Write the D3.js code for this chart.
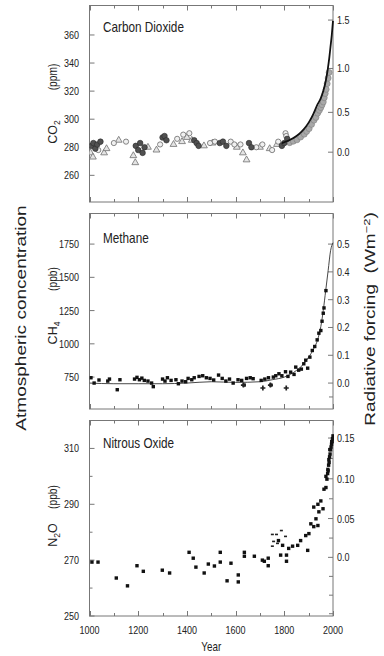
<!DOCTYPE html>
<html><head><meta charset="utf-8">
<script src="https://cdn.jsdelivr.net/npm/d3@7"></script>
<style>
html,body{margin:0;padding:0;background:#fff;}
svg{display:block;background:#fff;}
text{font-family:"Liberation Sans",Arial,"Helvetica",sans-serif;fill:#222;}
</style></head><body>
<svg id="c" width="384" height="656"></svg>
<script>
// ---------------- DATA ----------------
const xDomain = [1000, 2000];
const yearTickLabels = [1000, 1200, 1400, 1600, 1800, 2000];

// CO2 (ppm)
const co2Ticks = [260, 280, 300, 320, 340, 360];
const co2ForcingTicks = [0.0, 0.5, 1.0, 1.5];
const co2Dark = [[1008,281],[1016,283],[1024,279],[1032,282],[1045,284],[1190,281],[1200,278],[1208,283],[1218,276],[1226,280],[1300,287],[1308,288],[1316,285],[1430,285],[1440,283],[1448,281],[1535,283],[1548,284],[1562,281],[1655,283],[1665,280],[1790,281],[1800,283],[1812,286]];
const co2Triangles = [[1004,276],[1014,273],[1060,276],[1070,279],[1120,285],[1180,274],[1188,269],[1240,280],[1275,278],[1345,282],[1380,284],[1400,287],[1420,285],[1470,281],[1505,283],[1605,280],[1630,276],[1645,271],[1700,280],[1740,279],[1770,282]];
const co2Circles = [[1036,278],[1100,283],[1150,284],[1290,282],[1360,286],[1385,289],[1410,290],[1495,283],[1515,284],[1580,284],[1595,282],[1620,282],[1685,280],[1710,282],[1750,278],[1775,284],[1805,290],[1808,288]];
const co2Recent = [[1820,284],[1835,285],[1850,286],[1865,288],[1880,290],[1890,292],[1900,294],[1910,297],[1920,300],[1928,302],[1935,305],[1942,307],[1948,309],[1953,311],[1958,313],[1962,316],[1966,319],[1970,322],[1974,326],[1978,330],[1982,334]];
const co2Line = [[1790,283],[1820,285],[1850,288],[1870,291],[1890,295],[1905,299],[1920,304],[1935,310],[1950,315],[1960,320],[1970,327],[1978,335],[1985,344],[1990,352],[1995,360],[2000,370]];

// CH4 (ppb)
const ch4Ticks = [750, 1000, 1250, 1500, 1750];
const ch4ForcingTicks = [0.0, 0.1, 0.2, 0.3, 0.4, 0.5];
const ch4Points = [[1006,745],[1019,705],[1039,728],[1075,720],[1082,735],[1114,655],[1125,730],[1185,735],[1195,748],[1205,730],[1215,742],[1225,725],[1240,720],[1255,705],[1262,678],[1300,735],[1310,720],[1320,745],[1335,725],[1355,730],[1365,700],[1380,720],[1395,715],[1405,740],[1420,730],[1430,745],[1450,755],[1465,760],[1480,745],[1495,740],[1510,728],[1530,765],[1545,740],[1560,720],[1575,735],[1590,705],[1610,730],[1625,725],[1635,690],[1645,740],[1660,745],[1672,738],[1705,725],[1720,735],[1735,745],[1745,690],[1755,750],[1765,760],[1778,775],[1790,760],[1805,790],[1815,755],[1826,787],[1840,770],[1847,825],[1859,802],[1870,810],[1880,850],[1888,877],[1896,817],[1905,900],[1915,950],[1925,980],[1935,1030],[1942,1080],[1950,1100],[1955,1170],[1960,1230],[1963,1270],[1971,1400]];
const ch4Crosses = [[1712,668],[1808,668],[1632,690],[1743,690]];
const ch4Line = [[1000,705],[1100,700],[1200,700],[1300,700],[1400,705],[1500,715],[1600,710],[1700,715],[1750,730],[1800,750],[1850,800],[1880,850],[1900,900],[1920,960],[1940,1050],[1950,1130],[1960,1250],[1970,1400],[1980,1550],[1990,1700],[2000,1760]];

// N2O (ppb)
const n2oTicks = [250, 270, 290, 310];
const n2oMinorTicks = [260, 280, 300];
const n2oForcingTicks = [0.0, 0.05, 0.10, 0.15];
const n2oForcingLabels = ["0.0", "0.05", "0.10", "0.15"];
const n2oForcingMinor = [-0.075, -0.05, -0.025, 0.025, 0.075, 0.125];
const n2oPoints = [[1010,269.3],[1035,269.3],[1110,263.6],[1156,260.8],[1195,268],[1221,266],[1299,266.4],[1329,265.4],[1409,272.8],[1426,270.7],[1437,267.5],[1471,265.4],[1488,268.6],[1513,267.9],[1537,272.8],[1537,269.3],[1565,262.6],[1581,268.9],[1611,264.7],[1611,262.2],[1636,272.8],[1636,271.4],[1677,271.4],[1710,270],[1718,269.6],[1734,270.7],[1734,268],[1776,277],[1785,271.8],[1793,275.3],[1809,271.8],[1809,269.6],[1818,274.2],[1834,275],[1855,275.3],[1867,277],[1888,278.8],[1896,273.5],[1901,279.5],[1909,283],[1921,282],[1930,284.8],[1938,282.4],[1921,289],[1938,290],[1942,287.3],[1950,291.2],[1959,288.4],[1963,295.4],[1971,296],[1971,300],[1975,299],[1978,301],[1979,302.5],[1980,302],[1982,304],[1983,306],[1984,305],[1986,307],[1987,309.6],[1988,308],[1990,309.5],[1992,310.5],[1994,311.5],[1995,312.4],[1996,312.5],[1998,313.5],[2000,314.5]];
const n2oDashes = [[1751,279.2],[1768,279.2],[1751,275],[1756,276.7],[1772,276],[1788,280.6],[1805,278.5]];

// ---------------- CHART ----------------
const svg = d3.select('#c');
const xLeft = 89.5, xRight = 333;
const x = d3.scaleLinear().domain(xDomain).range([xLeft, xRight]);
const frameColor = '#777';
const SQ = 0.82; // horizontal squeeze of text

function htext(sel, tx, ty, size, anchor, txt, sq) {
  return sel.append('text')
    .attr('transform', `translate(${tx},${ty}) scale(${sq || SQ},1)`)
    .attr('text-anchor', anchor).attr('font-size', size).text(txt);
}

const co2FromForcing = f => 276.5 * Math.exp(f / 5.12);
const ch4FromForcing = f => 705 + f * 2090;
const n2oFromForcing = f => Math.pow(Math.sqrt(271) + f / 0.12, 2);

const panels = [
  {top: 5.5, bottom: 202, domain: [241, 381], ticks: co2Ticks, minor: [],
   fTicks: co2ForcingTicks, fLabels: co2ForcingTicks.map(d3.format('.1f')), fMinor: [], toConc: co2FromForcing,
   title: 'Carbon Dioxide', titleY: 32, formula: ['CO', '2', ''], formulaY: 132, unit: '(ppm)', unitY: 77},
  {top: 213.5, bottom: 409, domain: [510, 1980], ticks: ch4Ticks, minor: [],
   fTicks: ch4ForcingTicks, fLabels: ch4ForcingTicks.map(d3.format('.1f')), fMinor: [-0.05], toConc: ch4FromForcing,
   title: 'Methane', titleY: 243, formula: ['CH', '4', ''], formulaY: 333, unit: '(ppb)', unitY: 279},
  {top: 420.5, bottom: 616, domain: [250, 320], ticks: n2oTicks, minor: n2oMinorTicks,
   fTicks: n2oForcingTicks, fLabels: n2oForcingLabels, fMinor: n2oForcingMinor, toConc: n2oFromForcing,
   title: 'Nitrous Oxide', titleY: 448, formula: ['N', '2', 'O'], formulaY: 535, unit: '(ppb)', unitY: 497}
];

panels.forEach((p, i) => {
  const y = d3.scaleLinear().domain(p.domain).range([p.bottom, p.top]);
  p.y = y;
  const g = svg.append('g');
  g.append('rect').attr('x', xLeft).attr('y', p.top).attr('width', xRight - xLeft).attr('height', p.bottom - p.top)
    .attr('fill', 'none').attr('stroke', frameColor).attr('stroke-width', 1);
  d3.range(1000, 2001, 100).forEach(yr => {
    const len = yr % 200 === 0 ? 5 : 3;
    const xx = Math.round(x(yr)) + 0.5;
    g.append('line').attr('x1', xx).attr('x2', xx).attr('y1', p.bottom).attr('y2', p.bottom - len).attr('stroke', frameColor);
    g.append('line').attr('x1', xx).attr('x2', xx).attr('y1', p.top).attr('y2', p.top + len).attr('stroke', frameColor);
  });
  p.ticks.forEach(v => {
    const yy = y(v);
    g.append('line').attr('x1', xLeft).attr('x2', xLeft + 5).attr('y1', yy).attr('y2', yy).attr('stroke', frameColor);
    htext(g, 79, yy + 4, 11, 'end', v);
  });
  p.minor.forEach(v => {
    const yy = y(v);
    g.append('line').attr('x1', xLeft).attr('x2', xLeft + 3).attr('y1', yy).attr('y2', yy).attr('stroke', frameColor);
  });
  p.fTicks.forEach((f, k) => {
    const yy = y(p.toConc(f));
    g.append('line').attr('x1', xRight).attr('x2', xRight - 5).attr('y1', yy).attr('y2', yy).attr('stroke', frameColor);
    htext(g, 337, yy + 4, 11, 'start', p.fLabels[k]);
  });
  p.fMinor.forEach(f => {
    const yy = y(p.toConc(f));
    g.append('line').attr('x1', xRight).attr('x2', xRight - 4).attr('y1', yy).attr('y2', yy).attr('stroke', frameColor);
  });
  htext(g, 103, p.titleY, 14, 'start', p.title, 0.84);
  const ft = g.append('text').attr('transform', `translate(57,${p.formulaY}) rotate(-90)`)
    .attr('text-anchor', 'middle').attr('font-size', 12.5);
  ft.append('tspan').text(p.formula[0]);
  ft.append('tspan').attr('dy', 3).attr('font-size', 8.5).text(p.formula[1]);
  if (p.formula[2]) ft.append('tspan').attr('dy', -3).text(p.formula[2]);
  g.append('text').attr('transform', `translate(57,${p.unitY}) rotate(-90) scale(0.82,1)`)
    .attr('text-anchor', 'middle').attr('font-size', 12.5).text(p.unit);
});

const P1 = panels[0], P2 = panels[1], P3 = panels[2];
const defs = svg.append('defs');
panels.forEach((p, i) => {
  defs.append('clipPath').attr('id', 'clip' + i).append('rect')
    .attr('x', xLeft).attr('y', p.top).attr('width', xRight - xLeft + 1).attr('height', p.bottom - p.top);
});

// ---- CO2 ----
const g1 = svg.append('g').attr('clip-path', 'url(#clip0)');
g1.selectAll('.rc').data(co2Recent).enter().append('circle')
  .attr('cx', d => x(d[0]) + 0.5).attr('cy', d => P1.y(d[1]) + 1).attr('r', 3)
  .attr('fill', '#a8a8a8').attr('stroke', '#808080').attr('stroke-width', 0.6);
g1.selectAll('.tri').data(co2Triangles).enter().append('path')
  .attr('transform', d => `translate(${x(d[0])},${P1.y(d[1])})`)
  .attr('d', d3.symbol(d3.symbolTriangle, 20))
  .attr('fill', '#e4e4e4').attr('stroke', '#707070').attr('stroke-width', 0.8);
g1.selectAll('.oc').data(co2Circles).enter().append('circle')
  .attr('cx', d => x(d[0])).attr('cy', d => P1.y(d[1])).attr('r', 2.6)
  .attr('fill', '#f0f0f0').attr('stroke', '#6a6a6a').attr('stroke-width', 0.8);
g1.selectAll('.dc').data(co2Dark).enter().append('circle')
  .attr('cx', d => x(d[0])).attr('cy', d => P1.y(d[1])).attr('r', 2.8)
  .attr('fill', '#505050').attr('stroke', '#2a2a2a').attr('stroke-width', 0.6);
g1.append('path').datum(co2Line)
  .attr('d', d3.line().x(d => x(d[0])).y(d => P1.y(d[1])).curve(d3.curveMonotoneX))
  .attr('fill', 'none').attr('stroke', '#111').attr('stroke-width', 1.8);

// ---- CH4 ----
const g2 = svg.append('g').attr('clip-path', 'url(#clip1)');
g2.append('path').datum(ch4Line)
  .attr('d', d3.line().x(d => x(d[0])).y(d => P2.y(d[1])).curve(d3.curveMonotoneX))
  .attr('fill', 'none').attr('stroke', '#333').attr('stroke-width', 0.9);
g2.selectAll('.sq').data(ch4Points).enter().append('rect')
  .attr('x', d => x(d[0]) - 1.7).attr('y', d => P2.y(d[1]) - 1.7).attr('width', 3.4).attr('height', 3.4)
  .attr('fill', '#111');
g2.selectAll('.cr').data(ch4Crosses).enter().append('path')
  .attr('transform', d => `translate(${x(d[0])},${P2.y(d[1])})`)
  .attr('d', d3.symbol(d3.symbolCross, 14)).attr('fill', '#222');

// ---- N2O ----
const g3 = svg.append('g').attr('clip-path', 'url(#clip2)');
g3.selectAll('.sq').data(n2oPoints).enter().append('rect')
  .attr('x', d => x(d[0]) - 1.7).attr('y', d => P3.y(d[1]) - 1.7).attr('width', 3.4).attr('height', 3.4)
  .attr('fill', '#111');
g3.selectAll('.ds').data(n2oDashes).enter().append('rect')
  .attr('x', d => x(d[0]) - 1.5).attr('y', d => P3.y(d[1]) - 0.8).attr('width', 3).attr('height', 1.6)
  .attr('fill', '#222');

// ---- x labels ----
yearTickLabels.forEach(yr => { htext(svg, x(yr), 634, 11, 'middle', yr); });
htext(svg, (xLeft + xRight) / 2, 651, 12, 'middle', 'Year');

// ---- side labels ----
svg.append('text')
  .attr('transform', 'translate(26,318) rotate(-90) scale(1.36,1)')
  .attr('text-anchor', 'middle').attr('font-size', 14).text('Atmospheric concentration');
const rf = svg.append('text')
  .attr('transform', 'translate(375,319) rotate(-90) scale(1.36,1)')
  .attr('text-anchor', 'middle').attr('font-size', 14);
rf.append('tspan').text('Radiative forcing\u00a0\u00a0(Wm');
rf.append('tspan').attr('dy', -5).attr('font-size', 9.5).text('\u22122');
rf.append('tspan').attr('dy', 5).text(')');
</script>
</body></html>
